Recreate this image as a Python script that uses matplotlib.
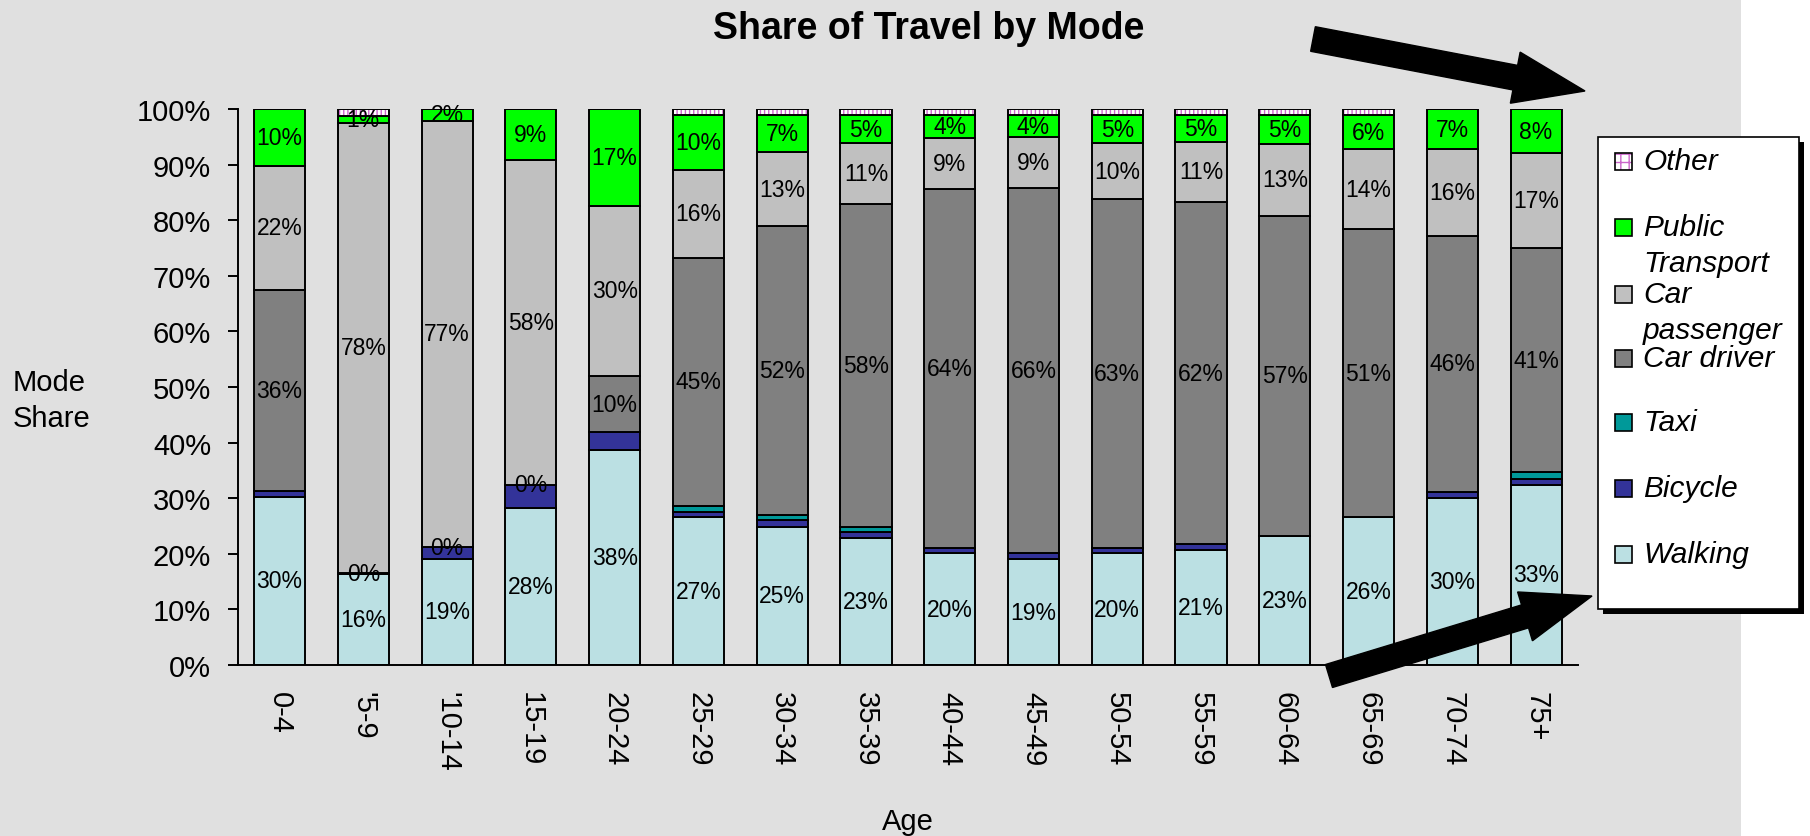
import numpy as np
import matplotlib
matplotlib.use('Agg')
import matplotlib.pyplot as plt
from matplotlib.patches import Rectangle, FancyArrow

plt.rcParams['font.family'] = ['Liberation Sans', 'DejaVu Sans']
plt.rcParams['hatch.linewidth'] = 1.0

# Share of travel by mode, raw percentages per age group (Excel 100% stacked)
ages = ['0-4', "'5-9", "'10-14", '15-19', '20-24', '25-29', '30-34', '35-39',
        '40-44', '45-49', '50-54', '55-59', '60-64', '65-69', '70-74', '75+']
walking = [30.3, 15.7, 19.1, 28.2, 38.4, 26.6, 24.9, 22.8, 20.1, 19.0, 20.1, 20.7, 23.2, 26.4, 30.0, 32.6]
bicycle = [1.0, 0.2, 2.1, 4.2, 3.2, 1.0, 1.1, 1.1, 0.9, 1.1, 0.9, 1.1, 0.0, 0.0, 1.1, 1.1]
taxi = [0.0, 0.1, 0.0, 0.0, 0.0, 1.1, 1.0, 1.0, 0.0, 0.0, 0.0, 0.0, 0.0, 0.0, 0.0, 1.1]
car_driver = [36.1, 0.0, 0.0, 0.0, 10.0, 44.6, 51.9, 58.0, 64.4, 65.6, 62.9, 61.6, 57.4, 51.4, 46.1, 40.6]
car_passenger = [22.4, 78.0, 76.7, 58.4, 30.4, 15.9, 13.3, 11.0, 9.2, 9.0, 10.1, 10.9, 13.0, 14.3, 15.6, 17.1]
public_transport = [10.2, 1.1, 2.1, 9.2, 17.3, 9.8, 6.7, 5.0, 4.1, 4.0, 5.1, 4.8, 5.1, 6.1, 7.2, 8.0]
other = [0.0, 1.3, 0.0, 0.0, 0.0, 1.1, 1.1, 1.1, 1.1, 1.1, 1.1, 1.1, 1.1, 1.1, 0.0, 0.0]

mode_names = ['Walking', 'Bicycle', 'Taxi', 'Car driver', 'Car passenger', 'Public Transport', 'Other']
legend_text = ['Walking', 'Bicycle', 'Taxi', 'Car driver', 'Car\npassenger', 'Public\nTransport', 'Other']
colors = ['#BBE0E3', '#333399', '#009999', '#808080', '#C0C0C0', '#00FF00', 'white']
labelled = ['Walking', 'Car driver', 'Car passenger', 'Public Transport']
taxi_label_ages = ["'5-9", "'10-14", '15-19']

W, H = 1810, 837
fig = plt.figure(figsize=(W / 100, H / 100), dpi=100, facecolor='white')

# grey chart area, white strip on the right
bg = fig.add_axes([0, 0, 1741 / W, 1], zorder=0)
bg.set_facecolor('#E0E0E0')
bg.set_xticks([]); bg.set_yticks([])
for s in bg.spines.values():
    s.set_visible(False)

ax = fig.add_axes([237.7 / W, 1 - 666 / H, (1578 - 237.7) / W, 556 / H], zorder=1)
ax.set_facecolor('none')

data = np.array([walking, bicycle, taxi, car_driver, car_passenger, public_transport, other])
shares = data / data.sum(axis=0)
x = np.arange(len(ages))
bw = 0.61
bottom = np.zeros(len(ages))
for i, name in enumerate(mode_names):
    if name == 'Other':
        ax.bar(x, shares[i], bw, bottom=bottom, color='white', edgecolor='#CC66CC',
               hatch='||||', linewidth=0, zorder=2)
        ax.bar(x, shares[i], bw, bottom=bottom, fill=False, edgecolor='black',
               linewidth=1.4, zorder=3)
    else:
        ax.bar(x, shares[i], bw, bottom=bottom, color=colors[i], edgecolor='black',
               linewidth=1.4, zorder=2)
    for j in range(len(ages)):
        v = data[i, j]
        show = (name in labelled and v > 0.5) or (name == 'Taxi' and ages[j] in taxi_label_ages)
        if show:
            ax.text(x[j], bottom[j] + shares[i, j] / 2, f'{v:.0f}%', ha='center', va='center',
                    fontsize=16.5, zorder=4)
    bottom += shares[i]

ax.set_xlim(-0.5, len(ages) - 0.5)
ax.set_ylim(0, 1)
ax.set_yticks(np.arange(0, 1.01, 0.1))
ax.set_yticklabels([f'{int(round(t * 100))}%' for t in np.arange(0, 1.01, 0.1)], fontsize=21)
ax.set_xticks(x)
ax.set_xticklabels(ages, rotation=270, fontsize=21, va='top', ha='center')
ax.tick_params(axis='x', length=0, pad=19)
ax.tick_params(axis='y', length=7.2, width=1.4, pad=12)
ax.spines['top'].set_visible(False)
ax.spines['right'].set_visible(False)
ax.spines['left'].set_linewidth(1.4)
ax.spines['bottom'].set_linewidth(1.4)

fig.text(929 / W, 1 - 29 / H, 'Share of Travel by Mode', ha='center', va='center',
         fontsize=27, fontweight='bold')
fig.text(13 / W, 1 - 401 / H, 'Mode\nShare', ha='left', va='center', fontsize=21, linespacing=1.4)
fig.text(908 / W, 1 - 822 / H, 'Age', ha='center', va='center', fontsize=21)

# overlay in pixel coords for legend and arrows
ov = fig.add_axes([0, 0, 1, 1], zorder=5)
ov.set_xlim(0, W)
ov.set_ylim(H, 0)
ov.axis('off')
ov.set_facecolor('none')

ov.add_patch(Rectangle((1603, 143), 201, 472, facecolor='black', edgecolor='none'))
ov.add_patch(Rectangle((1598, 138), 201, 472, facecolor='white', edgecolor='black', linewidth=1.2))
entry_y = [555, 489, 423, 359, 295, 228, 162]
for i, name in enumerate(mode_names):
    y = entry_y[i]
    if name == 'Other':
        ov.add_patch(Rectangle((1615, y - 8.5), 17, 17, facecolor='white', edgecolor='#CC66CC',
                               hatch='++', linewidth=0))
        ov.add_patch(Rectangle((1615, y - 8.5), 17, 17, fill=False, edgecolor='black', linewidth=1.2))
    else:
        ov.add_patch(Rectangle((1615, y - 8.5), 17, 17, facecolor=colors[i], edgecolor='black',
                               linewidth=1.2))
    for k, line in enumerate(legend_text[i].split('\n')):
        ov.text(1643, y + k * 36, line, ha='left', va='center', fontsize=21.5, style='italic')

# the two big arrows pointing at the legend
ov.add_patch(FancyArrow(1313, 40, 1585 - 1313, 92 - 40, width=25, head_width=52, head_length=71,
                        length_includes_head=True, color='black'))
ov.add_patch(FancyArrow(1329, 677, 1592 - 1329, 597 - 677, width=24, head_width=51, head_length=70,
                        length_includes_head=True, color='black'))

fig.savefig('out.png', dpi=100, facecolor=fig.get_facecolor())
